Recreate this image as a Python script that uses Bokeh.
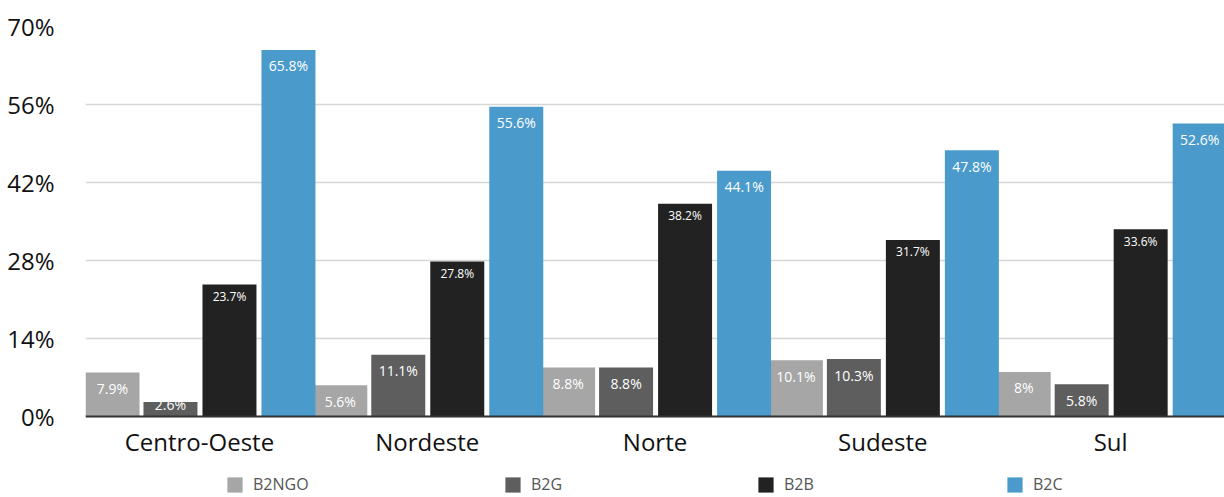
from bokeh.plotting import figure
from bokeh.models import Range1d, FixedTicker, Legend, LegendItem, ColumnDataSource, Span
from bokeh.core.properties import value
from bokeh.embed import file_html
from bokeh.resources import INLINE

regions = ["Centro-Oeste", "Nordeste", "Norte", "Sudeste", "Sul"]
series = ["B2NGO", "B2G", "B2B", "B2C"]
b2ngo = [7.9, 5.6, 8.8, 10.1, 8.0]
b2g = [2.6, 11.1, 8.8, 10.3, 5.8]
b2b = [23.7, 27.8, 38.2, 31.7, 33.6]
b2c = [65.8, 55.6, 44.1, 47.8, 52.6]
y_ticks = [0, 14, 28, 42, 56, 70]
colors = ["#a6a6a6", "#5e5e5e", "#222222", "#4a9bcb"]

FONT = "Open Sans"
offsets = [0.1185, 0.373, 0.632, 0.891]
bar_w = 0.237

# frame spans from the 70% line down to the bottom of the page;
# the part below 0 holds category labels and legend
px_per_unit = 390 / 70.0
below_units = 81 / px_per_unit

p = figure(width=1224, height=497, output_backend="svg", toolbar_location=None,
           x_range=Range1d(0, 5), y_range=Range1d(-below_units, 70),
           x_axis_location=None)
p.min_border_left = 85
p.min_border_right = 0
p.min_border_top = 26
p.min_border_bottom = 0
p.outline_line_color = None
p.background_fill_color = "white"

def fmt(v):
    return f"{v:g}%"

p.ygrid.ticker = FixedTicker(ticks=y_ticks)
p.ygrid.grid_line_color = "#d6d6d6"
p.ygrid.grid_line_width = 1.5
p.xgrid.grid_line_color = None

renderers = []
for k, (name, vals) in enumerate(zip(series, [b2ngo, b2g, b2b, b2c])):
    xs = [i + offsets[k] for i in range(len(regions))]
    src = ColumnDataSource(dict(x=xs, top=vals,
                                ly=[max(v, 5.0) if k != 2 else v for v in vals],
                                lab=[fmt(v) for v in vals]))
    r = p.vbar(x="x", top="top", width=bar_w, bottom=0, source=src,
               fill_color=colors[k], line_color=None)
    renderers.append(r)
    p.text(x="x", y="ly", text="lab", source=src,
           text_color="white", text_align="center", text_baseline="middle",
           text_font=value(FONT), text_font_size="12px" if k == 2 else "14px",
           y_offset=12 if k == 2 else 16)

# baseline axis line
p.add_layout(Span(location=0, dimension="width", line_color="#333333", line_width=2))

# category labels
cat_src = ColumnDataSource(dict(x=[i + 0.5 for i in range(len(regions))],
                                y=[0] * len(regions), t=regions))
p.text(x="x", y="y", text="t", source=cat_src, text_align="center",
       text_baseline="middle", text_font=value(FONT), text_font_size="24px",
       text_color="#111111", y_offset=25)

# y axis
p.yaxis.ticker = FixedTicker(ticks=y_ticks)
p.yaxis.major_label_overrides = {t: f"{t}%" for t in y_ticks}
p.yaxis.major_label_text_font = FONT
p.yaxis.major_label_text_font_size = "24px"
p.yaxis.major_label_text_color = "#111111"
p.yaxis.axis_line_color = None
p.yaxis.major_tick_line_color = None
p.yaxis.minor_tick_line_color = None
p.yaxis.major_label_standoff = 25

legend_x = [140, 418, 671, 920]
for k, name in enumerate(series):
    lg = Legend(items=[LegendItem(label=name, renderers=[renderers[k]])],
                location=(legend_x[k], 2), orientation="horizontal",
                padding=0, margin=0, border_line_color=None,
                background_fill_alpha=0,
                glyph_width=19, glyph_height=19, label_standoff=9,
                label_text_font=FONT, label_text_font_size="16px",
                label_text_color="#555555", label_height=19)
    p.add_layout(lg)

open("out.html", "w").write(file_html(p, INLINE))
